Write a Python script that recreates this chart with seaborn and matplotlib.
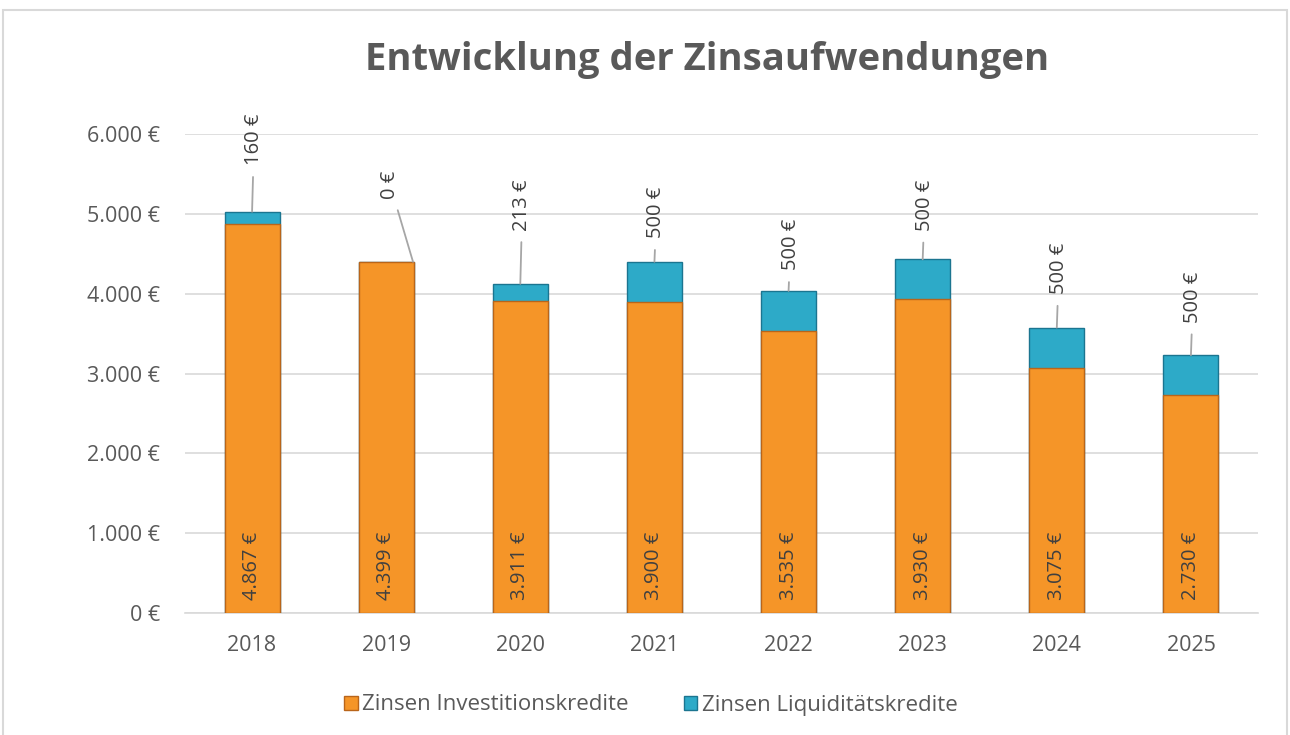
import matplotlib
matplotlib.use("Agg")
import matplotlib.pyplot as plt
from matplotlib.patches import Patch, Rectangle
import pandas as pd
import seaborn as sns

# chart data
years = ["2018", "2019", "2020", "2021", "2022", "2023", "2024", "2025"]
zinsen_invest = [4867, 4399, 3911, 3900, 3535, 3930, 3075, 2730]
zinsen_liquid = [160, 0, 213, 500, 500, 500, 500, 500]
y_ticks = [0, 1000, 2000, 3000, 4000, 5000, 6000]

# layout: how far (px) each top label sits above its bar
label_lift = [72, 77, 79, 49, 46, 54, 59, 58]

orange = "#F59528"
orange_edge = "#B9651A"
blue = "#2DAAC8"
blue_edge = "#1B7590"
text_grey = "#595959"


def euro(v):
    return f"{v:,}".replace(",", ".") + " €"


df = pd.DataFrame({"year": years, "invest": zinsen_invest, "liquid": zinsen_liquid})
df["total"] = df["invest"] + df["liquid"]

sns.set_style("white")
plt.rcParams["font.family"] = ["Open Sans", "DejaVu Sans"]

fig = plt.figure(figsize=(12.9, 7.35), dpi=100)
ax = fig.add_axes([185 / 1290, 1 - 613 / 735, (1258 - 185) / 1290, (613 - 134) / 735])

sns.barplot(data=df, x="year", y="total", color=blue, saturation=1, width=0.41,
            edgecolor=blue_edge, linewidth=1, ax=ax, zorder=3)
sns.barplot(data=df, x="year", y="invest", color=orange, saturation=1, width=0.41,
            edgecolor=orange_edge, linewidth=1, ax=ax, zorder=4)

ax.set_ylim(0, 6000)
ax.set_xlim(-0.5, len(years) - 0.5)
ax.set_yticks(y_ticks, [euro(v) for v in y_ticks])
ax.set_xlabel("")
ax.set_ylabel("")
ax.grid(axis="y", color="#d9d9d9", linewidth=1.2, zorder=0)
ax.set_axisbelow(True)
for s in ["top", "right", "left"]:
    ax.spines[s].set_visible(False)
ax.spines["bottom"].set_color("#d9d9d9")
ax.spines["bottom"].set_linewidth(1.2)
ax.tick_params(axis="both", length=0, labelsize=15.5, labelcolor=text_grey)
ax.tick_params(axis="y", pad=18)
ax.tick_params(axis="x", pad=16)

for i, row in df.iterrows():
    # bottom label (investment interest)
    ax.annotate(euro(int(row["invest"])), xy=(i, 0), xytext=(0, 13),
                textcoords="offset pixels", rotation=90, ha="center", va="bottom",
                fontsize=14.5, color="#404040", zorder=6)
    # top label (liquidity interest) with leader line
    anchor_x = i + 0.2 if row["liquid"] == 0 else i
    ax.annotate(euro(int(row["liquid"])), xy=(anchor_x, row["total"]),
                xytext=(2, label_lift[i]), textcoords="offset pixels",
                rotation=90, ha="center", va="center", fontsize=14.5, color="#404040",
                zorder=6, annotation_clip=False,
                arrowprops=dict(arrowstyle="-", color="#a6a6a6", lw=1.3,
                                shrinkA=6, shrinkB=0))

# the 2019 label sits over the bar centre, its line runs to the bar corner
for i, t in enumerate(ax.texts[1::2]):
    if zinsen_liquid[i] == 0:
        t.xyann = (-0.2 * 134 + 4, label_lift[i])

fig.text(707 / 1290, 1 - 60 / 735, "Entwicklung der Zinsaufwendungen", ha="center",
         va="center", fontsize=27.5, fontweight="bold", color=text_grey)

handles = [Patch(facecolor=orange, edgecolor=orange_edge, label="Zinsen Investitionskredite"),
           Patch(facecolor=blue, edgecolor=blue_edge, label="Zinsen Liquiditätskredite")]
leg = fig.legend(handles=handles, loc="center", bbox_to_anchor=(651 / 1290, 1 - 705 / 735),
                 ncol=2, frameon=False, fontsize=16, handlelength=0.6, handleheight=0.6,
                 handletextpad=0.2, columnspacing=2.5)
for t in leg.get_texts():
    t.set_color(text_grey)

fig.patches.append(Rectangle((3 / 1290, -0.01), 1284 / 1290, 1 - 10 / 735 + 0.01,
                             transform=fig.transFigure, fill=False,
                             edgecolor="#d9d9d9", linewidth=1.5))

fig.savefig("out.png", dpi=100)
